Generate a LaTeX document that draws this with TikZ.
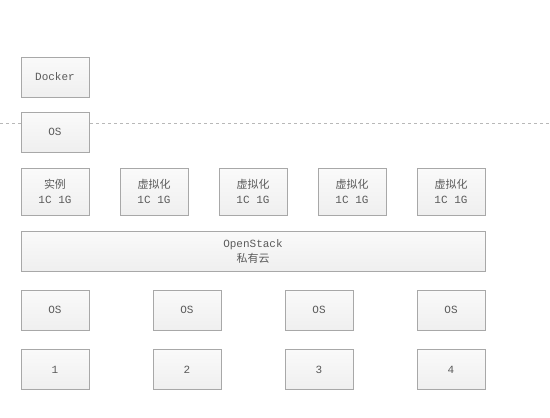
\documentclass[tikz,border=0pt]{standalone}
\usepackage{fontspec}
\setmonofont{Liberation Mono}
\newfontfamily\cjk{Noto Sans CJK SC}
\definecolor{boxline}{HTML}{A8A8A8}
\definecolor{boxtop}{HTML}{FAFAFA}
\definecolor{boxbot}{HTML}{EFEFEF}
\definecolor{txt}{HTML}{5A5A5A}
\definecolor{dashc}{HTML}{B8B8B8}
\begin{document}
\begin{tikzpicture}[x=1pt,y=-1pt,
  blk/.style={draw=boxline,top color=boxtop,bottom color=boxbot,line width=0.9pt,inner sep=0pt,
    text=txt,font=\ttfamily\fontsize{11}{15}\selectfont,align=center},
  small/.style={blk,minimum width=68pt,minimum height=40pt},
  tall/.style={blk,minimum width=68pt,minimum height=47pt},
  wide/.style={blk,minimum width=464pt,minimum height=40pt}]
\useasboundingbox[fill=white] (0,0) rectangle (550,418);
\draw[dashc,dashed,line width=0.6pt] (0,123) -- (550,123);
\node[small] (docker) at (55,77) {Docker};
\node[small] (os0) at (55,132) {OS};
\node[tall] (inst) at (55,191.5) {{\cjk 实例}\\1C 1G};
\node[tall] (v1) at (154,191.5) {{\cjk 虚拟化}\\1C 1G};
\node[tall] (v2) at (253,191.5) {{\cjk 虚拟化}\\1C 1G};
\node[tall] (v3) at (352,191.5) {{\cjk 虚拟化}\\1C 1G};
\node[tall] (v4) at (451,191.5) {{\cjk 虚拟化}\\1C 1G};
\node[wide] (os) at (253,251) {OpenStack\\{\cjk 私有云}};
\node[small] (os1) at (55,310) {OS};
\node[small] (os2) at (187,310) {OS};
\node[small] (os3) at (319,310) {OS};
\node[small] (os4) at (451,310) {OS};
\node[small] (h1) at (55,369.5) {1};
\node[small] (h2) at (187,369.5) {2};
\node[small] (h3) at (319,369.5) {3};
\node[small] (h4) at (451,369.5) {4};
\end{tikzpicture}
\end{document}
